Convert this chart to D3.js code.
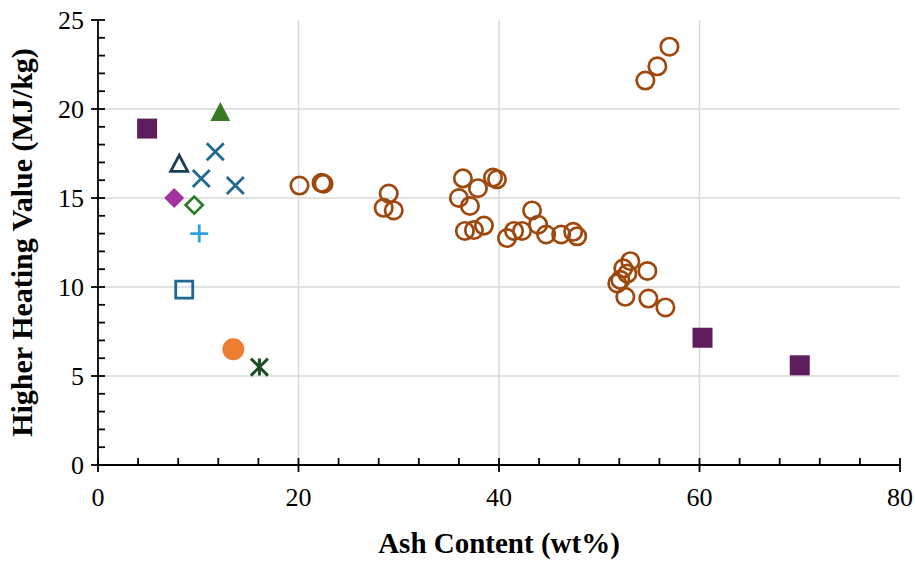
<!DOCTYPE html>
<html>
<head>
<meta charset="utf-8">
<script src="https://cdn.jsdelivr.net/npm/d3@7"></script>
<style>
  body { margin: 0; background: #fff; }
  text { font-family: "Liberation Serif", "Times New Roman", serif; fill: #000; }
</style>
</head>
<body>
<div id="chart"></div>
<script>
// series data (ash wt%, HHV MJ/kg)
const purpleSquareX = [4.9, 60.3, 70.0];
const purpleSquareY = [18.9, 7.15, 5.6];
const greenTriX = [12.2];
const greenTriY = [19.8];
const openTriX = [8.1];
const openTriY = [16.9];
const crossX = [11.7, 10.3, 13.7];
const crossY = [17.6, 16.1, 15.7];
const magentaDiaX = [7.6];
const magentaDiaY = [15.0];
const openDiaX = [9.6];
const openDiaY = [14.6];
const plusX = [10.1];
const plusY = [13.0];
const openSquareX = [8.6];
const openSquareY = [9.85];
const orangeX = [13.5];
const orangeY = [6.5];
const starX = [16.1];
const starY = [5.5];
const brownX = [20.1, 22.3, 22.5, 29.0, 28.5, 29.5, 36.0, 36.4, 37.9, 37.1, 36.6, 37.5, 38.5,
  39.4, 39.8, 43.3, 43.9, 40.8, 41.5, 42.3, 44.7, 46.2, 47.4, 47.8,
  57.0, 55.8, 54.6, 53.1, 54.8, 52.4, 52.8, 52.1, 51.8, 52.6, 54.9, 56.6];
const brownY = [15.7, 15.85, 15.8, 15.25, 14.45, 14.3, 15.0, 16.1, 15.55, 14.55, 13.15, 13.2, 13.45,
  16.15, 16.05, 14.3, 13.5, 12.75, 13.15, 13.15, 12.95, 12.95, 13.1, 12.85,
  23.5, 22.4, 21.6, 11.45, 10.9, 11.05, 10.75, 10.4, 10.2, 9.45, 9.35, 8.85];

const xTicks = [0, 20, 40, 60, 80];
const yTicks = [0, 5, 10, 15, 20, 25];

const width = 915, height = 561;
const margin = {left: 98, right: 15, top: 20, bottom: 96};

const svg = d3.select('#chart').append('svg')
  .attr('width', width).attr('height', height);

const x = d3.scaleLinear().domain([0, 80]).range([margin.left, width - margin.right]);
const y = d3.scaleLinear().domain([0, 25]).range([height - margin.bottom, margin.top]);

// gridlines
svg.append('g').selectAll('line.v').data(xTicks.filter(d => d > 0 && d < 80)).enter().append('line')
  .attr('x1', d => x(d)).attr('x2', d => x(d))
  .attr('y1', y(0)).attr('y2', y(25))
  .attr('stroke', '#d9d9d9').attr('stroke-width', 1.5);
svg.append('g').selectAll('line.h').data(yTicks.filter(d => d > 0 && d < 25)).enter().append('line')
  .attr('y1', d => y(d)).attr('y2', d => y(d))
  .attr('x1', x(0)).attr('x2', x(80))
  .attr('stroke', '#d9d9d9').attr('stroke-width', 1.5);

// axes: major ticks cross the line, minor ticks point inward
const axisG = svg.append('g').attr('stroke', '#000').attr('stroke-width', 1.8);
axisG.append('line').attr('x1', x(0)).attr('x2', x(80)).attr('y1', y(0)).attr('y2', y(0));
axisG.append('line').attr('x1', x(0)).attr('x2', x(0)).attr('y1', y(0)).attr('y2', y(25));
axisG.selectAll('line.xmaj').data(xTicks).enter().append('line')
  .attr('x1', d => x(d)).attr('x2', d => x(d)).attr('y1', y(0) - 7).attr('y2', y(0) + 7);
axisG.selectAll('line.xmin').data(d3.range(4, 80, 4).filter(d => d % 20)).enter().append('line')
  .attr('x1', d => x(d)).attr('x2', d => x(d)).attr('y1', y(0) - 7).attr('y2', y(0));
axisG.selectAll('line.ymaj').data(yTicks).enter().append('line')
  .attr('y1', d => y(d)).attr('y2', d => y(d)).attr('x1', x(0) - 7).attr('x2', x(0) + 7);
axisG.selectAll('line.ymin').data(d3.range(1, 25).filter(d => d % 5)).enter().append('line')
  .attr('y1', d => y(d)).attr('y2', d => y(d)).attr('x1', x(0)).attr('x2', x(0) + 7);

// tick labels
svg.append('g').selectAll('text').data(xTicks).enter().append('text')
  .attr('x', d => x(d)).attr('y', y(0) + 41)
  .attr('text-anchor', 'middle').style('font-size', '26px')
  .text(d => d);
svg.append('g').selectAll('text').data(yTicks).enter().append('text')
  .attr('x', x(0) - 14).attr('y', d => y(d) + 9)
  .attr('text-anchor', 'end').style('font-size', '26px')
  .text(d => d);

// axis titles
svg.append('text')
  .attr('x', (x(0) + x(80)) / 2).attr('y', 553)
  .attr('text-anchor', 'middle').style('font-size', '29px').style('font-weight', 'bold')
  .text('Ash Content (wt%)');
svg.append('text')
  .attr('transform', `translate(32,${(y(0) + y(25)) / 2}) rotate(-90)`)
  .attr('text-anchor', 'middle').style('font-size', '30px').style('font-weight', 'bold')
  .text('Higher Heating Value (MJ/kg)');

// marker shapes
const shapes = {
  square: s => `M${-s},${-s}H${s}V${s}H${-s}Z`,
  triangle: s => `M0,${-s * 1.05}L${s},${s * 0.85}H${-s}Z`,
  diamond: s => `M0,${-s}L${s},0L0,${s}L${-s},0Z`,
  cross: s => `M${-s},${-s}L${s},${s}M${-s},${s}L${s},${-s}`,
  plus: s => `M${-s},0H${s}M0,${-s}V${s}`,
  star: s => `M${-s},${-s}L${s},${s}M${-s},${s}L${s},${-s}M0,${-s}V${s}`,
  circle: s => `M${s},0A${s},${s} 0 1,1 ${-s},0A${s},${s} 0 1,1 ${s},0Z`
};

function series(xs, ys, shape, size, fill, stroke, sw) {
  svg.append('g').selectAll('path').data(xs.map((v, i) => [v, ys[i]])).enter().append('path')
    .attr('transform', d => `translate(${x(d[0])},${y(d[1])})`)
    .attr('d', shapes[shape](size))
    .attr('fill', fill).attr('stroke', stroke).attr('stroke-width', sw);
}

series(brownX, brownY, 'circle', 8.7, 'none', '#9E480E', 2.7);
series(purpleSquareX, purpleSquareY, 'square', 10, '#5E1D5C', 'none', 0);
series(greenTriX, greenTriY, 'triangle', 10, '#3B7A24', 'none', 0);
series(openTriX, openTriY, 'triangle', 8.5, 'none', '#183F57', 2.8);
series(crossX, crossY, 'cross', 8.5, 'none', '#1F6A8E', 2.8);
series(magentaDiaX, magentaDiaY, 'diamond', 10, '#A3329D', 'none', 0);
series(openDiaX, openDiaY, 'diamond', 8.5, 'none', '#2F7A2C', 2.8);
series(plusX, plusY, 'plus', 9, 'none', '#2AA3DC', 2.8);
series(openSquareX, openSquareY, 'square', 8.5, 'none', '#1F6692', 2.8);
series(orangeX, orangeY, 'circle', 11, '#ED7D31', 'none', 0);
series(starX, starY, 'star', 8.5, 'none', '#1D4D25', 3);
</script>
</body>
</html>
